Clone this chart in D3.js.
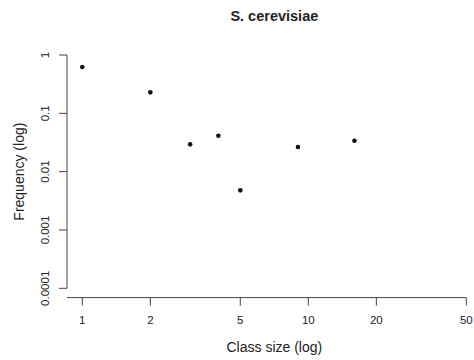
<!DOCTYPE html>
<html>
<head>
<meta charset="utf-8">
<script src="https://cdn.jsdelivr.net/npm/d3@7"></script>
<style>
  body { margin: 0; background: #fff; }
  svg { display: block; }
  text { font-family: "Liberation Sans", Arial, Helvetica, sans-serif; fill: #222; }
</style>
</head>
<body>
<svg id="chart" width="474" height="360"></svg>
<script>
// Data
const classSize = [1, 2, 3, 4, 5, 9, 16];
const frequency = [0.622, 0.229, 0.0294, 0.0413, 0.00478, 0.0264, 0.0339];
const xTicks = [1, 2, 5, 10, 20, 50];
const xTickLabels = ["1", "2", "5", "10", "20", "50"];
const yTicks = [1, 0.1, 0.01, 0.001, 0.0001];
const yTickLabels = ["1", "0.1", "0.01", "0.001", "0.0001"];
const title = "S. cerevisiae";
const xTitle = "Class size (log)";
const yTitle = "Frequency (log)";

const svg = d3.select("#chart");
const plotLeft = 67, plotRight = 481.7, plotTop = 45.7, plotBottom = 297.6;

const x = d3.scaleLog().domain([1, 50]).range([82.3, 466.3]);
const y = d3.scaleLog().domain([1, 0.0001]).range([55, 288.3]);

const axisColor = "#444";

// X axis
const gx = svg.append("g").attr("transform", `translate(0,${plotBottom})`);
gx.append("line")
  .attr("x1", plotLeft).attr("x2", x(50))
  .attr("y1", 0).attr("y2", 0)
  .attr("stroke", axisColor).attr("stroke-width", 1);
gx.selectAll("line.tick").data(xTicks).join("line")
  .attr("class", "tick")
  .attr("x1", d => x(d)).attr("x2", d => x(d))
  .attr("y1", 0).attr("y2", 8)
  .attr("stroke", axisColor).attr("stroke-width", 1);
gx.selectAll("text.tl").data(xTicks).join("text")
  .attr("class", "tl")
  .attr("x", d => x(d)).attr("y", 26.5)
  .attr("text-anchor", "middle")
  .attr("font-size", "11.5px")
  .text((d, i) => xTickLabels[i]);

// Y axis
const gy = svg.append("g").attr("transform", `translate(${plotLeft},0)`);
gy.append("line")
  .attr("x1", 0).attr("x2", 0)
  .attr("y1", y(1)).attr("y2", y(0.0001))
  .attr("stroke", axisColor).attr("stroke-width", 1);
gy.selectAll("line.tick").data(yTicks).join("line")
  .attr("class", "tick")
  .attr("x1", 0).attr("x2", -8)
  .attr("y1", d => y(d)).attr("y2", d => y(d))
  .attr("stroke", axisColor).attr("stroke-width", 1);
gy.selectAll("text.tl").data(yTicks).join("text")
  .attr("class", "tl")
  .attr("transform", d => `translate(-18,${y(d)}) rotate(-90)`)
  .attr("text-anchor", "middle")
  .attr("font-size", "11.5px")
  .text((d, i) => yTickLabels[i]);

// Points
svg.append("g").selectAll("circle").data(classSize).join("circle")
  .attr("cx", d => x(d))
  .attr("cy", (d, i) => y(frequency[i]))
  .attr("r", 2.3)
  .attr("fill", "#111");

// Titles
svg.append("text")
  .attr("x", (plotLeft + plotRight) / 2).attr("y", 20.5)
  .attr("text-anchor", "middle")
  .attr("font-size", "14.5px").attr("font-weight", "bold")
  .text(title);
svg.append("text")
  .attr("x", (plotLeft + plotRight) / 2).attr("y", 352)
  .attr("text-anchor", "middle")
  .attr("font-size", "14px")
  .text(xTitle);
svg.append("text")
  .attr("transform", `translate(23.5,${(plotTop + plotBottom) / 2}) rotate(-90)`)
  .attr("text-anchor", "middle")
  .attr("font-size", "14px")
  .text(yTitle);
</script>
</body>
</html>
